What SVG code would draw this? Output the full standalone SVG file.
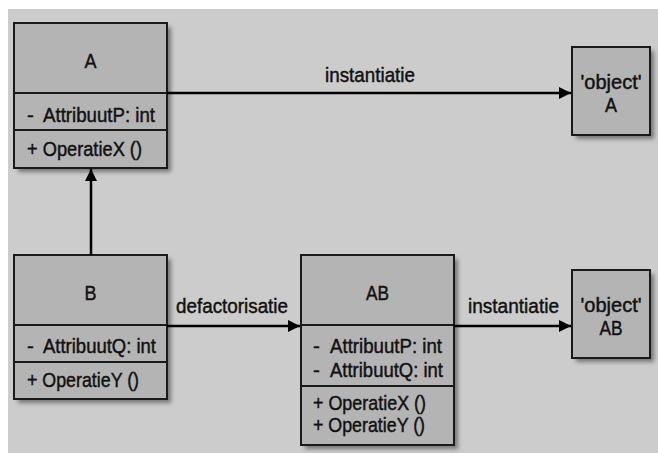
<svg xmlns="http://www.w3.org/2000/svg" width="658" height="453" viewBox="0 0 658 453">
  <style>
    .box { fill: #b4b4b4; stroke: #1a1a1a; stroke-width: 2; }
    .div { stroke: #1a1a1a; stroke-width: 2; fill: none; }
    .shadow { fill: #777777; filter: url(#soft); }
    .t { font-family: "Liberation Sans", Arial, sans-serif; font-size: 20.5px; fill: #111; stroke: #111; stroke-width: 0.45; }
    .c { text-anchor: middle; }
    .conn { stroke: #000; stroke-width: 2.5; fill: none; marker-end: url(#arrow); }
  </style>
  <defs>
    <filter id="soft" x="-20%" y="-20%" width="140%" height="140%">
      <feGaussianBlur stdDeviation="2"/>
    </filter>
    <marker id="arrow" viewBox="0 0 12 12" refX="12" refY="6" markerWidth="12" markerHeight="12" markerUnits="userSpaceOnUse" orient="auto">
      <path d="M0,0 L12,6 L0,12 Z" fill="#000"/>
    </marker>
  </defs>

  <rect x="8" y="9" width="650" height="444" fill="#cccccc"/>

  <g id="classA">
    <rect class="shadow" x="18" y="27" width="153" height="145"/>
    <rect class="box" x="14" y="23" width="153" height="145"/>
    <line class="div" x1="14" y1="93" x2="167" y2="93"/>
    <line class="div" x1="14" y1="130" x2="167" y2="130"/>
    <text class="t c" x="90.5" y="68" textLength="12" lengthAdjust="spacingAndGlyphs">A</text>
    <text class="t" x="27" y="122">-</text>
    <text class="t" x="43" y="122" textLength="112" lengthAdjust="spacingAndGlyphs">AttribuutP: int</text>
    <text class="t" x="27" y="156" textLength="115" lengthAdjust="spacingAndGlyphs">+ OperatieX ()</text>
  </g>

  <g id="classB">
    <rect class="shadow" x="18" y="259" width="153" height="144"/>
    <rect class="box" x="14" y="255" width="153" height="144"/>
    <line class="div" x1="14" y1="325" x2="167" y2="325"/>
    <line class="div" x1="14" y1="362" x2="167" y2="362"/>
    <text class="t c" x="90.5" y="300" textLength="12" lengthAdjust="spacingAndGlyphs">B</text>
    <text class="t" x="27" y="353">-</text>
    <text class="t" x="43" y="353" textLength="113" lengthAdjust="spacingAndGlyphs">AttribuutQ: int</text>
    <text class="t" x="27" y="387" textLength="112" lengthAdjust="spacingAndGlyphs">+ OperatieY ()</text>
  </g>

  <g id="classAB">
    <rect class="shadow" x="305" y="259" width="153" height="190"/>
    <rect class="box" x="301" y="255" width="153" height="190"/>
    <line class="div" x1="301" y1="325" x2="454" y2="325"/>
    <line class="div" x1="301" y1="386" x2="454" y2="386"/>
    <text class="t c" x="377.5" y="300" textLength="23" lengthAdjust="spacingAndGlyphs">AB</text>
    <text class="t" x="313" y="353">-</text>
    <text class="t" x="330" y="353" textLength="112" lengthAdjust="spacingAndGlyphs">AttribuutP: int</text>
    <text class="t" x="313" y="377">-</text>
    <text class="t" x="330" y="377" textLength="113" lengthAdjust="spacingAndGlyphs">AttribuutQ: int</text>
    <text class="t" x="313" y="410" textLength="113" lengthAdjust="spacingAndGlyphs">+ OperatieX ()</text>
    <text class="t" x="313" y="432" textLength="112" lengthAdjust="spacingAndGlyphs">+ OperatieY ()</text>
  </g>

  <g id="objectA">
    <rect class="shadow" x="576" y="51" width="78" height="88"/>
    <rect class="box" x="572" y="47" width="78" height="88"/>
    <text class="t c" x="611" y="89" textLength="61" lengthAdjust="spacingAndGlyphs">'object'</text>
    <text class="t c" x="611" y="112" textLength="12" lengthAdjust="spacingAndGlyphs">A</text>
  </g>

  <g id="objectAB">
    <rect class="shadow" x="576" y="274" width="78" height="88"/>
    <rect class="box" x="572" y="270" width="78" height="88"/>
    <text class="t c" x="611" y="312" textLength="61" lengthAdjust="spacingAndGlyphs">'object'</text>
    <text class="t c" x="611" y="335" textLength="23" lengthAdjust="spacingAndGlyphs">AB</text>
  </g>

  <g id="connectors">
    <path class="conn" d="M167,93 H571"/>
    <path class="conn" d="M91,255 V169"/>
    <path class="conn" d="M167,326 H300"/>
    <path class="conn" d="M454,326 H571"/>
    <text class="t c" x="370" y="82" textLength="90" lengthAdjust="spacingAndGlyphs">instantiatie</text>
    <text class="t c" x="232" y="313" textLength="112" lengthAdjust="spacingAndGlyphs">defactorisatie</text>
    <text class="t c" x="513.5" y="313" textLength="91" lengthAdjust="spacingAndGlyphs">instantiatie</text>
  </g>
</svg>
